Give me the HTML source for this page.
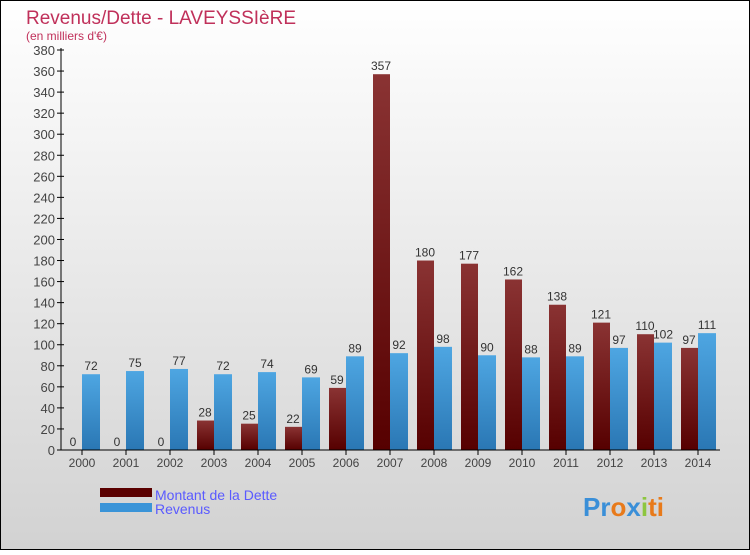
<!DOCTYPE html>
<html><head><meta charset="utf-8"><style>
body{margin:0;width:750px;height:550px;overflow:hidden;font-family:"Liberation Sans",sans-serif}
</style></head><body>
<svg width="750" height="550">
<defs>
<linearGradient id="bg" x1="0" y1="0" x2="0" y2="1"><stop offset="0" stop-color="#ffffff"/><stop offset="1" stop-color="#d2d2d2"/></linearGradient>
<linearGradient id="gd" x1="0" y1="0" x2="0" y2="1"><stop offset="0" stop-color="#8a3333"/><stop offset="1" stop-color="#560000"/></linearGradient>
<linearGradient id="gr" x1="0" y1="0" x2="0" y2="1"><stop offset="0" stop-color="#4ea6e2"/><stop offset="1" stop-color="#2a77b4"/></linearGradient>
</defs>
<rect x="0.5" y="0.5" width="749" height="549" fill="url(#bg)" stroke="#000"/>
<text x="26" y="24" font-size="19" fill="#c0305a">Revenus/Dette - LAVEYSSIèRE</text>
<text x="26" y="40" font-size="12" fill="#c0305a">(en milliers d'€)</text>
<g id="plot"></g>
<g>
<rect x="100" y="488" width="52" height="9" fill="#5a0000"/>
<text x="155" y="500" font-size="14" fill="#5a5aff">Montant de la Dette</text>
<rect x="100" y="503" width="52" height="9" fill="#3a94d8"/>
<text x="155" y="514" font-size="14" fill="#5a5aff">Revenus</text>
</g>
<text x="583" y="516" font-size="26" font-weight="bold"><tspan fill="#3a8fd8">Pr</tspan><tspan fill="#e87a1a">o</tspan><tspan fill="#3a8fd8">x</tspan><tspan fill="#8dc63f">i</tspan><tspan fill="#e87a1a">ti</tspan></text>
</svg>
<script>
const years=["2000","2001","2002","2003","2004","2005","2006","2007","2008","2009","2010","2011","2012","2013","2014"];
const dette=[0,0,0,28,25,22,59,357,180,177,162,138,121,110,97];
const revenus=[72,75,77,72,74,69,89,92,98,90,88,89,97,102,111];
const yTicks=[0,20,40,60,80,100,120,140,160,180,200,220,240,260,280,300,320,340,360,380];
const NS="http://www.w3.org/2000/svg";
const g=document.getElementById('plot');
const y=v=>450-v*400/380;
const cx=i=>82+44*i;
function mk(t,a,txt){const e=document.createElementNS(NS,t);for(const k in a)e.setAttribute(k,a[k]);if(txt!==undefined)e.textContent=txt;g.appendChild(e);return e;}
yTicks.forEach(v=>{
 const t=mk('line',{x1:57,x2:64,y1:y(v),y2:y(v),stroke:'#000'});
 
 
 const l=mk('text',{x:55,y:y(v)+5,'font-size':13,'text-anchor':'end',fill:'#444'},v);
 
 
});
years.forEach((yr,i)=>{
 const c=cx(i);
 const bd=mk('rect',{x:c-17,y:y(dette[i]),width:17,height:450-y(dette[i]),fill:'url(#gd)'});
 
 
 const br=mk('rect',{x:c,y:y(revenus[i]),width:18,height:450-y(revenus[i]),fill:'url(#gr)'});
 
 
 const ld=mk('text',{x:c-9,y:y(dette[i])-4,'font-size':12,'text-anchor':'middle',fill:'#333'},dette[i]);
 
 
 const lr=mk('text',{x:c+9,y:y(revenus[i])-4,'font-size':12,'text-anchor':'middle',fill:'#333'},revenus[i]);
 
 
 const tk=mk('line',{x1:c,x2:c,y1:450,y2:455,stroke:'#000'});
 
 
 const xl=mk('text',{x:c,y:467,'font-size':12,'text-anchor':'middle',fill:'#444'},yr);
 
 
});
const ya=mk('line',{x1:61,x2:61,y1:48,y2:450,stroke:'#000'});


const xa=mk('line',{x1:61,x2:720,y1:450,y2:450,stroke:'#000'});


</script>
</body></html>
